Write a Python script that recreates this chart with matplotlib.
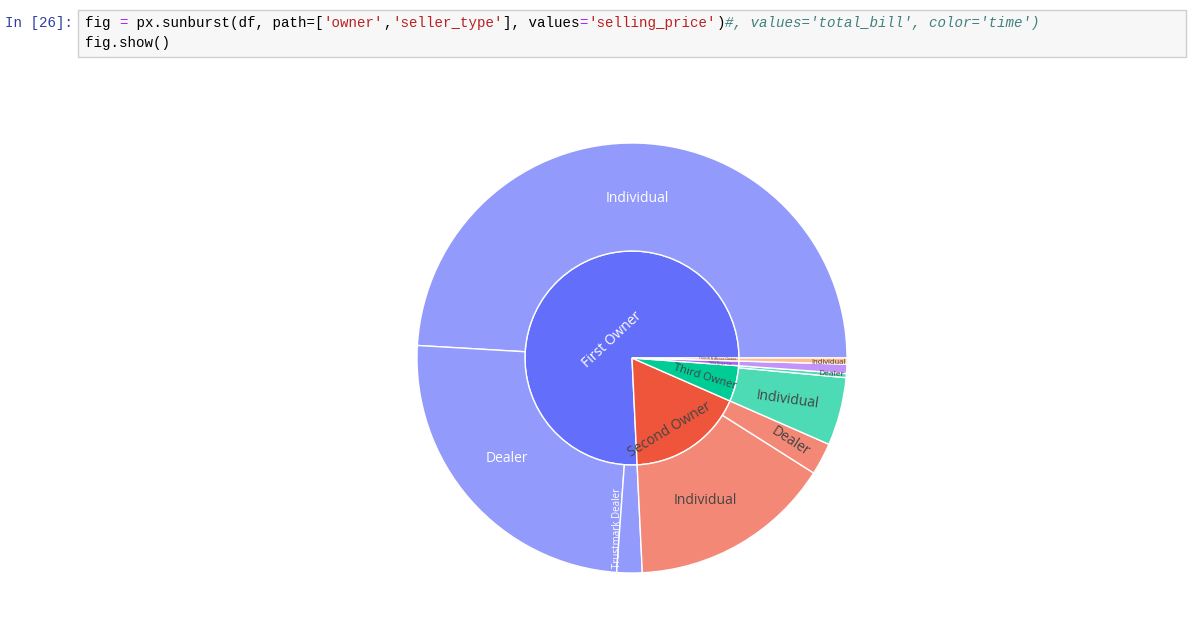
import numpy as np
import matplotlib
matplotlib.use("Agg")
import matplotlib.pyplot as plt
from matplotlib.patches import Wedge, Rectangle

owners = ["First Owner", "Second Owner", "Third Owner", "Test Drive Car", "Fourth & Above Owner"]
owner_colors = ["#636EFA", "#EF553B", "#00CC96", "#AB63FA", "#FFA15A"]
children = [["Individual", "Dealer", "Trustmark Dealer"],
            ["Individual", "Dealer"],
            ["Individual", "Dealer"],
            ["Dealer"],
            ["Individual"]]
child_values = [[48.9, 24.7, 1.9],
                [15.2, 2.4],
                [5.1, 0.3],
                [0.7],
                [0.45]]

W, H = 1200, 629
fig = plt.figure(figsize=(12, 6.29), dpi=100)
ax = fig.add_axes([0, 0, 1, 1])
ax.set_xlim(0, W); ax.set_ylim(0, H); ax.set_aspect("equal"); ax.axis("off")

# code cell
ax.add_patch(Rectangle((78, H - 57), 1108, 47, facecolor="#f7f7f7", edgecolor="#cfcfcf", lw=1))
ax.text(5, H - 23, "In [26]:", family="Liberation Mono", fontsize=10.2, color="#303F9F", va="center")
cw = 8.53
def code(segs, y):
    i = 0
    for s, c, st in segs:
        ax.text(85 + i * cw, H - y, s, family="Liberation Mono", fontsize=10.2, color=c,
                style=st, va="center")
        i += len(s)
K, P, R, G = "#000000", "#AA22FF", "#BA2121", "#408080"
code([("fig ", K, "normal"), ("=", P, "normal"), (" px.sunburst(df, path=[", K, "normal"),
      ("'owner'", R, "normal"), (",", K, "normal"), ("'seller_type'", R, "normal"),
      ("], values", K, "normal"), ("=", P, "normal"), ("'selling_price'", R, "normal"),
      (")", K, "normal"), ("#, values='total_bill', color='time')", G, "italic")], 23)
code([("fig.show()", K, "normal")], 43)

def lighten(c, a=0.7):
    rgb = np.array(matplotlib.colors.to_rgb(c))
    return tuple(a * rgb + (1 - a))

cx, cy = 632, H - 358
r_in, r_out = 107, 215
total = sum(sum(v) for v in child_values)
ang = 0.0
dark = "#444444"
for oi, o in enumerate(owners):
    ov = sum(child_values[oi])
    a0, a1 = ang, ang + 360 * ov / total
    ax.add_patch(Wedge((cx, cy), r_in, a0, a1, facecolor=owner_colors[oi], edgecolor="white", lw=1))
    ca = ang
    for ch, v in zip(children[oi], child_values[oi]):
        b0, b1 = ca, ca + 360 * v / total
        ax.add_patch(Wedge((cx, cy), r_out, b0, b1, width=r_out - r_in,
                           facecolor=lighten(owner_colors[oi]), edgecolor="white", lw=1))
        ca = b1
    ang = a1

def txt(x, y, s, rot, col, fs):
    ax.text(x, H - y, s, rotation=rot, color=col, fontsize=fs, ha="center", va="center",
            family="Open Sans", rotation_mode="anchor")

txt(612, 340, "First Owner", 43, "white", 10)
txt(670, 430, "Second Owner", 31, dark, 10)
txt(705, 377, "Third Owner", -17, dark, 8)
txt(718, 359, "Fourth & Above Owner", -2, dark, 2.5)
txt(720, 364, "Test Drive Car", -3, dark, 2.5)
txt(637, 198, "Individual", 0, "white", 10)
txt(507, 459, "Dealer", 0, "white", 10)
txt(617, 528, "Trustmark Dealer", 90, "white", 7)
txt(705, 501, "Individual", 0, dark, 10)
txt(790, 442, "Dealer", -33, dark, 10)
txt(787, 400, "Individual", -8, dark, 10)
txt(828, 363, "Individual", 0, dark, 5.5)
txt(831, 374, "Dealer", -3, dark, 6)

fig.savefig("out.png", dpi=100, facecolor="white")
